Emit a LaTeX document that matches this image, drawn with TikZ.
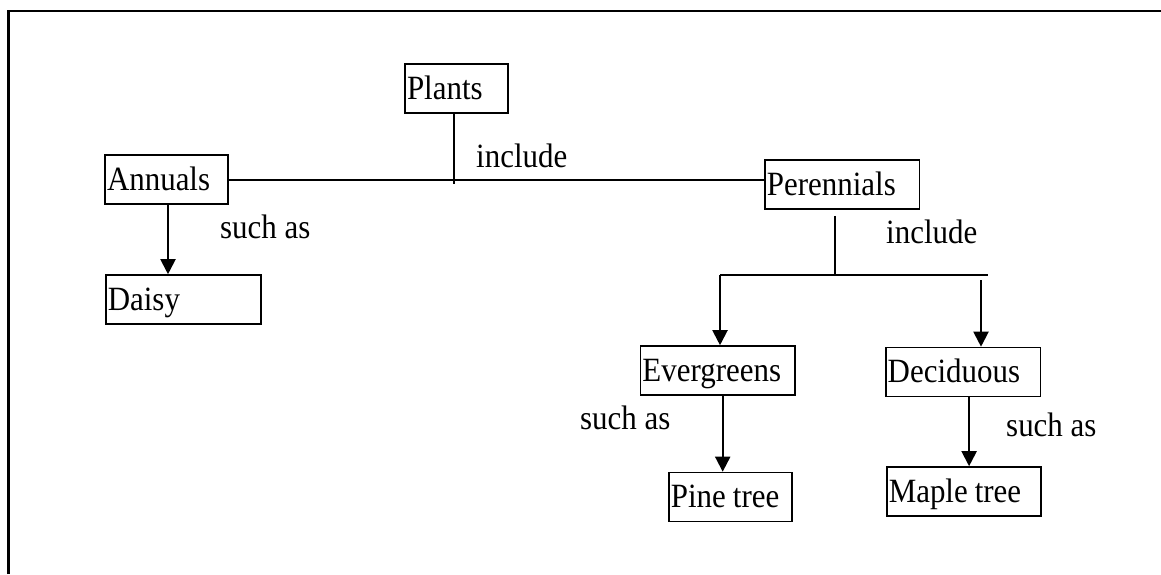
\documentclass[tikz,border=0pt]{standalone}
\usepackage{fontspec}
\setmainfont{Liberation Serif}[FakeStretch=0.91]
\usetikzlibrary{arrows.meta}
\begin{document}
\begin{tikzpicture}[x=1pt,y=-1pt,
  every node/.style={font=\fontsize{34}{40}\selectfont},
  box/.style={draw,line width=1.6pt,rectangle,inner sep=0pt,inner xsep=2pt,
    text height=35pt,text depth=14pt},
  lbl/.style={inner sep=0pt,anchor=base west},
  conn/.style={line width=2pt},
  arr/.style={line width=2pt,-{Triangle[width=15pt,length=15pt]}}]
\useasboundingbox (0,0) rectangle (1161,574);
\draw[line width=2.2pt] (8.5,574) -- (8.5,11) -- (1161,11);
% boxes (text placed at the left edge of a fixed-width box)
\node[box,text width=99pt] (plants) at (456.5,88.5) {Plants\hfill};
\node[box,text width=119pt] (annuals) at (166.5,179.5) {Annuals\hfill};
\node[box,text width=151pt] (daisy) at (183.3,299.5) {Daisy\hfill};
\node[box,text width=150.5pt] (perennials) at (842.2,184.5) {Perennials\hfill};
\node[box,text width=150.5pt] (evergreens) at (717.7,370.5) {Evergreens\hfill};
\node[box,text width=150.8pt] (deciduous) at (963.1,372) {Deciduous\hfill};
\node[box,text width=119pt] (pine) at (730.4,497) {Pine\kern7pt tree\hfill};
\node[box,text width=150.5pt] (maple) at (964,491.5) {Maple\kern7pt tree\hfill};
% labels
\node[lbl] (inc1) at (476,167) {include};
\node[lbl] (such1) at (220,238) {such as};
\node[lbl] (inc2) at (886,243) {include};
\node[lbl] (such2) at (580,429) {such as};
\node[lbl] (such3) at (1006,436) {such as};
% junctions
\coordinate (j1) at (453.5,184);
\coordinate (j2) at (835,275);
\coordinate (jl) at (720,275);
\coordinate (jr) at (988,275);
\coordinate (jr2) at (981,280);
% connectors
\draw[conn] (plants.south -| j1) -- (j1);
\draw[conn] (annuals.east) -- (annuals.east -| perennials.west);
\draw[arr] ([xshift=1.5pt]annuals.south) -- ([xshift=1.5pt]annuals.south |- daisy.north);
\draw[conn] ([yshift=-6pt]perennials.south -| j2) -- (j2);
\draw[conn] (jl) -- (jr);
\draw[arr] (jl) -- (jl |- evergreens.north);
\draw[arr] (jr2) -- (jr2 |- deciduous.north);
\draw[arr] ([xshift=5pt]evergreens.south) -- ([xshift=5pt]evergreens.south |- pine.north);
\draw[arr] ([xshift=6pt]deciduous.south) -- ([xshift=6pt]deciduous.south |- maple.north);
\end{tikzpicture}
\end{document}
